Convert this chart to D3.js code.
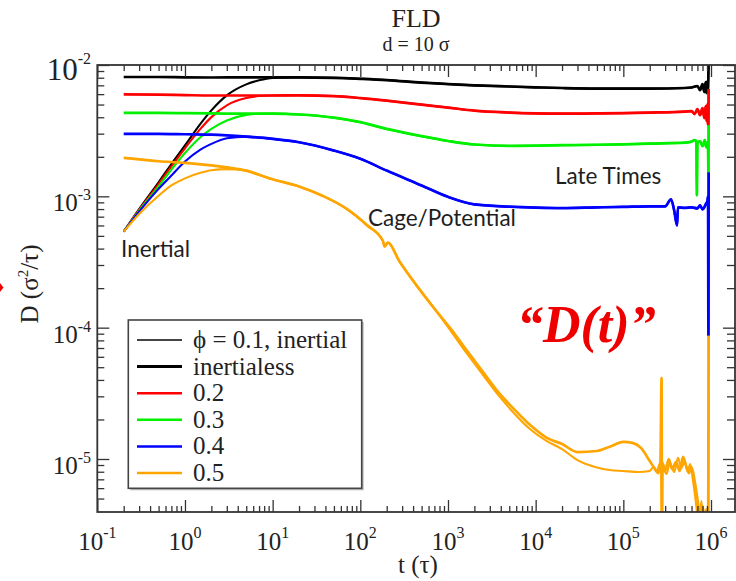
<!DOCTYPE html>
<html>
<head>
<meta charset="utf-8">
<script src="https://cdn.jsdelivr.net/npm/d3@7"></script>
<style>
  html, body { margin: 0; padding: 0; background: #fff; }
  svg { display: block; }
</style>
</head>
<body>
<svg id="chart" width="736" height="581"></svg>
<script>
// ---------------- data ----------------
// Volume fractions and their colours
const phiLabels = ["0.1", "0.2", "0.3", "0.4", "0.5"];
const legendLabels = ["\u03D5 = 0.1, inertial", "inertialess", "0.2", "0.3", "0.4", "0.5"];
const xTickExps = [-1, 0, 1, 2, 3, 4, 5, 6];
const yTickExps = [-2, -3, -4, -5];

// Inertialess D(t), phi = 0.1 .. 0.4, on a common time grid
const tMain = [0.2, 0.5, 1, 2, 5, 10, 20, 50, 100, 200, 500, 1e3, 2e3, 5e3, 1e4, 2e4, 5e4, 1e5, 2e5];
const D01 = [8.10e-3, 8.10e-3, 8.05e-3, 8.03e-3, 8.05e-3, 8.05e-3, 8.05e-3, 7.99e-3, 7.85e-3, 7.68e-3, 7.35e-3, 7.16e-3, 7.00e-3, 6.86e-3, 6.76e-3, 6.68e-3, 6.62e-3, 6.62e-3, 6.62e-3];
const D02 = [5.97e-3, 5.95e-3, 5.90e-3, 5.86e-3, 5.86e-3, 5.86e-3, 5.88e-3, 5.80e-3, 5.60e-3, 5.35e-3, 4.99e-3, 4.74e-3, 4.49e-3, 4.34e-3, 4.28e-3, 4.26e-3, 4.28e-3, 4.30e-3, 4.34e-3];
const D03 = [4.32e-3, 4.32e-3, 4.30e-3, 4.28e-3, 4.26e-3, 4.26e-3, 4.20e-3, 3.97e-3, 3.67e-3, 3.26e-3, 2.87e-3, 2.64e-3, 2.48e-3, 2.42e-3, 2.43e-3, 2.45e-3, 2.47e-3, 2.49e-3, 2.52e-3];
const D04 = [2.99e-3, 2.99e-3, 2.97e-3, 2.95e-3, 2.85e-3, 2.74e-3, 2.58e-3, 2.23e-3, 1.93e-3, 1.57e-3, 1.21e-3, 9.91e-4, 8.69e-4, 8.34e-4, 8.20e-4, 8.14e-4, 8.24e-4, 8.31e-4, 8.39e-4];

// Noisy late-time ends (shared by both runs at each phi)
const tTail01 = [5e5, 6e5, 7e5, 7.5e5, 8e5, 8.4e5, 8.7e5, 8.9e5, 9.1e5, 9.25e5, 9.4e5];
const DTail01 = [6.68e-3, 6.74e-3, 6.92e-3, 6.44e-3, 7.16e-3, 6.22e-3, 7.42e-3, 6.11e-3, 7.55e-3, 6.56e-3, 1.2e-2];
const tTail02 = [5e5, 6e5, 6.5e5, 7e5, 7.5e5, 8e5, 8.4e5, 8.7e5, 8.9e5, 9.1e5, 9.25e5, 9.35e5, 9.4e5];
const DTail02 = [4.42e-3, 4.46e-3, 4.23e-3, 4.61e-3, 4.15e-3, 4.70e-3, 3.94e-3, 4.86e-3, 3.74e-3, 5.04e-3, 3.54e-3, 3.48e-3, 6.56e-3];
const tTail03 = [5e5, 6e5, 6.5e5, 6.8e5, 6.9e5, 7e5, 7.5e5, 8e5, 8.5e5, 8.8e5, 9.1e5, 9.25e5, 9.35e5, 9.4e5];
const DTail03 = [2.56e-3, 2.61e-3, 2.68e-3, 2.63e-3, 1.02e-3, 2.54e-3, 2.63e-3, 2.41e-3, 2.68e-3, 2.37e-3, 2.58e-3, 2.28e-3, 1.52e-3, 3.48e-3];
const tTail04 = [3e5, 3.5e5, 3.8e5, 4.1e5, 4.2e5, 5e5, 6e5, 7e5, 7.5e5, 8e5, 8.5e5, 8.8e5, 9.1e5, 9.25e5, 9.35e5, 9.4e5];
const DTail04 = [8.39e-4, 9.49e-4, 7.82e-4, 6.01e-4, 8.24e-4, 8.17e-4, 8.24e-4, 8.10e-4, 8.54e-4, 7.96e-4, 8.39e-4, 8.84e-4, 9.16e-4, 1.0e-3, 8.69e-5, 1.52e-3];

// phi = 0.5, inertialess run
const tPhi05 = [0.2, 0.5, 1, 2, 3, 5, 7, 10, 20, 37, 70, 120, 180, 190, 205, 280, 440, 670, 1050, 1650, 2500, 3900, 5500, 8600, 13400, 2e4, 3e4, 5e4, 7e4, 1e5, 1.3e5, 1.6e5, 2e5];
const D05 = [1.96e-3, 1.85e-3, 1.80e-3, 1.72e-3, 1.66e-3, 1.57e-3, 1.46e-3, 1.35e-3, 1.19e-3, 1.01e-3, 8.03e-4, 6.01e-4, 4.61e-4, 4.15e-4, 4.45e-4, 3.19e-4, 2.09e-4, 1.45e-4, 1.0e-4, 6.67e-5, 4.61e-5, 3.13e-5, 2.45e-5, 1.82e-5, 1.45e-5, 1.30e-5, 1.13e-5, 1.15e-5, 1.24e-5, 1.35e-5, 1.32e-5, 1.21e-5, 9.65e-6];
const tTail05 = [2.3e5, 2.5e5, 2.65e5, 2.73e5, 2.76e5, 2.8e5, 3e5, 3.3e5, 3.6e5, 4e5, 4.4e5, 4.8e5, 5.2e5, 5.6e5, 6e5, 6.5e5, 7e5, 7.5e5, 8e5, 8.5e5, 9e5, 9.35e5, 9.4e5];
const DTail05 = [8.39e-6, 7.82e-6, 9.65e-6, 4.15e-5, 2.82e-6, 9.32e-6, 8.1e-6, 1.0e-5, 8.39e-6, 9.48e-6, 8.1e-6, 1.04e-5, 8.85e-6, 7.82e-6, 8.69e-6, 6.8e-6, 4.95e-6, 3.67e-6, 4.38e-6, 3.36e-6, 4.01e-6, 3.36e-6, 8.69e-5];

// phi = 0.5, inertial run after it separates from the inertialess one
const tPhi05Inertial = [670, 1050, 1650, 2500, 3900, 5500, 8600, 13400, 2e4, 3e4, 5e4, 7e4, 1e5, 1.5e5, 2e5];
const D05Inertial = [1.45e-4, 9.65e-5, 6.33e-5, 4.38e-5, 2.97e-5, 2.28e-5, 1.69e-5, 1.37e-5, 1.19e-5, 9.8e-6, 8.61e-6, 8.24e-6, 8.10e-6, 7.96e-6, 8.10e-6];
const tTail05b = [2.2e5, 2.4e5, 2.6e5, 2.7e5, 2.75e5, 2.78e5, 3.1e5, 3.4e5, 3.8e5, 4.2e5, 4.6e5, 5e5, 5.4e5, 5.8e5, 6.2e5, 6.8e5, 7.2e5, 7.8e5, 8.2e5, 8.8e5, 9.2e5, 9.4e5];
const DTail05b = [8.69e-6, 7.96e-6, 9.16e-6, 7.55e-6, 2.37e-6, 8.85e-6, 7.68e-6, 9.32e-6, 7.96e-6, 1.02e-5, 8.54e-6, 9.65e-6, 8.1e-6, 9.16e-6, 7.04e-6, 4.38e-6, 3.08e-6, 4.78e-6, 2.82e-6, 4.15e-6, 3.08e-6, 8.69e-5];

// Inertial start-up (ballistic) part, common grid
const tRise = [0.2, 0.3, 0.5, 0.7, 1, 1.5, 2, 3, 5, 7, 10];
const rise01 = [5.38e-4, 8.0e-4, 1.28e-3, 1.76e-3, 2.44e-3, 3.56e-3, 4.51e-3, 5.87e-3, 7.12e-3, 7.64e-3, 7.96e-3];
const rise02 = [5.38e-4, 7.91e-4, 1.24e-3, 1.69e-3, 2.32e-3, 3.26e-3, 4.01e-3, 4.93e-3, 5.60e-3, 5.80e-3, 5.86e-3];
const rise03 = [5.38e-4, 7.78e-4, 1.19e-3, 1.60e-3, 2.14e-3, 2.82e-3, 3.26e-3, 3.78e-3, 4.17e-3, 4.25e-3, 4.26e-3];
const rise04 = [5.38e-4, 7.64e-4, 1.14e-3, 1.44e-3, 1.84e-3, 2.27e-3, 2.51e-3, 2.77e-3, 2.85e-3, 2.80e-3, 2.74e-3];
const rise05 = [5.38e-4, 7.33e-4, 1.01e-3, 1.21e-3, 1.37e-3, 1.51e-3, 1.58e-3, 1.61e-3, 1.57e-3, 1.46e-3, 1.35e-3];

// ---------------- styles ----------------
const colors = ["#000000", "#ff0000", "#00f000", "#0000ff", "#ffa500"];
const serif = "'Liberation Serif', 'Times New Roman', serif";
const sans = "Lato, 'Open Sans', sans-serif";

// ---------------- build series ----------------
const pairs = (ts, ds) => ts.map((t, i) => [t, ds[i]]);
const tRiseEnd = tRise[tRise.length - 1];

const mains = [D01, D02, D03, D04];
const tails = [[tTail01, DTail01], [tTail02, DTail02], [tTail03, DTail03], [tTail04, DTail04]];
const rises = [rise01, rise02, rise03, rise04, rise05];

const inertialess = [];
const inertial = [];
mains.forEach((D, i) => {
  const tailStart = tails[i][0][0];
  const s = pairs(tMain, D).filter(p => p[0] < tailStart).concat(pairs(tails[i][0], tails[i][1]));
  inertialess.push(s);
  inertial.push(pairs(tRise, rises[i]).concat(s.filter(p => p[0] > tRiseEnd)));
});
const s05 = pairs(tPhi05, D05).concat(pairs(tTail05, DTail05));
inertialess.push(s05);
inertial.push(
  pairs(tRise, rise05)
    .concat(pairs(tPhi05, D05).filter(p => p[0] > tRiseEnd && p[0] < tPhi05Inertial[0]))
    .concat(pairs(tPhi05Inertial, D05Inertial))
    .concat(pairs(tTail05b, DTail05b))
);

// ---------------- chart ----------------
const svg = d3.select("#chart");
svg.append("rect").attr("width", 736).attr("height", 581).attr("fill", "#fff");

const L = 97.3, R = 735, T = 65, B = 512;
const x = d3.scaleLog().domain([0.1, 1e6]).range([L, 711]);
const y = d3.scaleLog().domain([1e-2, 1e-5]).range([T, 459]);

svg.append("clipPath").attr("id", "plotClip")
  .append("rect").attr("x", L).attr("y", T).attr("width", R - L).attr("height", B - T);

const line = d3.line().x(d => x(d[0])).y(d => y(d[1])).curve(d3.curveMonotoneX);
const gLines = svg.append("g").attr("clip-path", "url(#plotClip)").attr("fill", "none")
  .attr("stroke-linejoin", "round");

for (let i = 0; i < 5; i++) {
  gLines.append("path").attr("d", line(inertialess[i]))
    .attr("stroke", colors[i]).attr("stroke-width", 2.7);
  gLines.append("path").attr("d", line(inertial[i]))
    .attr("stroke", colors[i]).attr("stroke-width", 2.1);
}

// ---------------- axes ----------------
const xMajor = xTickExps.map(e => Math.pow(10, e));
const xMinor = [];
for (let e = -1; e <= 5; e++) for (let m = 2; m <= 9; m++) xMinor.push(m * Math.pow(10, e));
const yMajor = yTickExps.map(e => Math.pow(10, e));
const yMinor = [];
for (let e = -3; e >= -5; e--) for (let m = 2; m <= 9; m++) yMinor.push(m * Math.pow(10, e));
for (let m = 5; m <= 9; m++) yMinor.push(m * 1e-6);

function ticks(axis, values, size, tx, ty) {
  svg.append("g").attr("transform", `translate(${tx},${ty})`)
    .call(axis.tickValues(values).tickSize(size).tickFormat(""))
    .call(g => g.select(".domain").remove())
    .call(g => g.selectAll("line").attr("stroke", "#333").attr("stroke-width", 1.3));
}
ticks(d3.axisBottom(x), xMajor, -12, 0, B);
ticks(d3.axisBottom(x), xMinor, -6, 0, B);
ticks(d3.axisTop(x), xMajor, -12, 0, T);
ticks(d3.axisTop(x), xMinor, -6, 0, T);
ticks(d3.axisLeft(y), yMajor, -12, L, 0);
ticks(d3.axisLeft(y), yMinor, -7, L, 0);
ticks(d3.axisRight(y), yMajor, -12, R, 0);
ticks(d3.axisRight(y), yMinor, -8, R, 0);

svg.append("rect").attr("x", L).attr("y", T).attr("width", R - L).attr("height", B - T)
  .attr("fill", "none").attr("stroke", "#333").attr("stroke-width", 1.8);

// x tick labels
const xl = svg.append("g").attr("font-family", serif).attr("fill", "#222");
xTickExps.forEach(e => {
  const t = xl.append("text").attr("x", x(Math.pow(10, e))).attr("y", 550)
    .attr("text-anchor", "middle").attr("font-size", 25);
  t.append("tspan").text("10");
  t.append("tspan").attr("dy", -12).attr("font-size", 16).text(String(e));
});
// y tick labels
yTickExps.forEach((e, i) => {
  const t = xl.append("text").attr("x", 91).attr("y", y(Math.pow(10, e)) + 15)
    .attr("text-anchor", "end").attr("font-size", i === 0 ? 31 : 25);
  t.append("tspan").text("10");
  t.append("tspan").attr("dy", i === 0 ? -16 : -11).attr("font-size", 16).text(String(e));
});

// titles
svg.append("text").attr("x", 416).attr("y", 27).attr("text-anchor", "middle")
  .attr("font-family", serif).attr("font-size", 26).attr("fill", "#222").text("FLD");
svg.append("text").attr("x", 416).attr("y", 51).attr("text-anchor", "middle")
  .attr("font-family", serif).attr("font-size", 20).attr("fill", "#222").text("d = 10 \u03C3");
svg.append("text").attr("x", 418).attr("y", 573).attr("text-anchor", "middle")
  .attr("font-family", serif).attr("font-size", 25).attr("fill", "#222").text("t (\u03C4)");
const yl = svg.append("text").attr("transform", "translate(38,284) rotate(-90)")
  .attr("text-anchor", "middle").attr("font-family", serif).attr("font-size", 25).attr("fill", "#222");
yl.append("tspan").text("D (\u03C3");
yl.append("tspan").attr("dy", -10).attr("font-size", 15).text("2");
yl.append("tspan").attr("dy", 10).text("/\u03C4)");

// annotations
const ann = svg.append("g").attr("font-family", sans).attr("font-size", 22.5).attr("fill", "#1e1e1e");
ann.append("text").attr("x", 121).attr("y", 257).text("Inertial");
ann.append("text").attr("x", 368).attr("y", 226).text("Cage/Potential");
ann.append("text").attr("x", 555).attr("y", 184).text("Late Times");
svg.append("text").attr("x", 517).attr("y", 342).attr("font-family", serif)
  .attr("font-size", 52).attr("font-weight", "bold").attr("font-style", "italic")
  .attr("fill", "#ee0000").text("\u201CD(t)\u201D");
svg.append("path").attr("d", "M0,283 L3.5,287.5 L0,292 Z").attr("fill", "#ee0000");

// ---------------- legend ----------------
const lg = svg.append("g");
lg.append("rect").attr("x", 130.3).attr("y", 322).attr("width", 233.4).attr("height", 168.3)
  .attr("fill", "#bbb");
lg.append("rect").attr("x", 128.3).attr("y", 320).attr("width", 233.4).attr("height", 168.3)
  .attr("fill", "#fff").attr("stroke", "#444").attr("stroke-width", 1.6);
const legendColors = ["#444", "#000", colors[1], colors[2], colors[3], colors[4]];
const legendWidths = [2, 3, 2.5, 2.5, 2.5, 2.5];
legendLabels.forEach((lab, i) => {
  const ly = 340 + i * 26.6;
  lg.append("line").attr("x1", 137).attr("x2", 182).attr("y1", ly).attr("y2", ly)
    .attr("stroke", legendColors[i]).attr("stroke-width", legendWidths[i]);
  lg.append("text").attr("x", 193).attr("y", ly + 8).attr("font-family", serif)
    .attr("font-size", 25).attr("fill", "#222").text(lab);
});
</script>
</body>
</html>
